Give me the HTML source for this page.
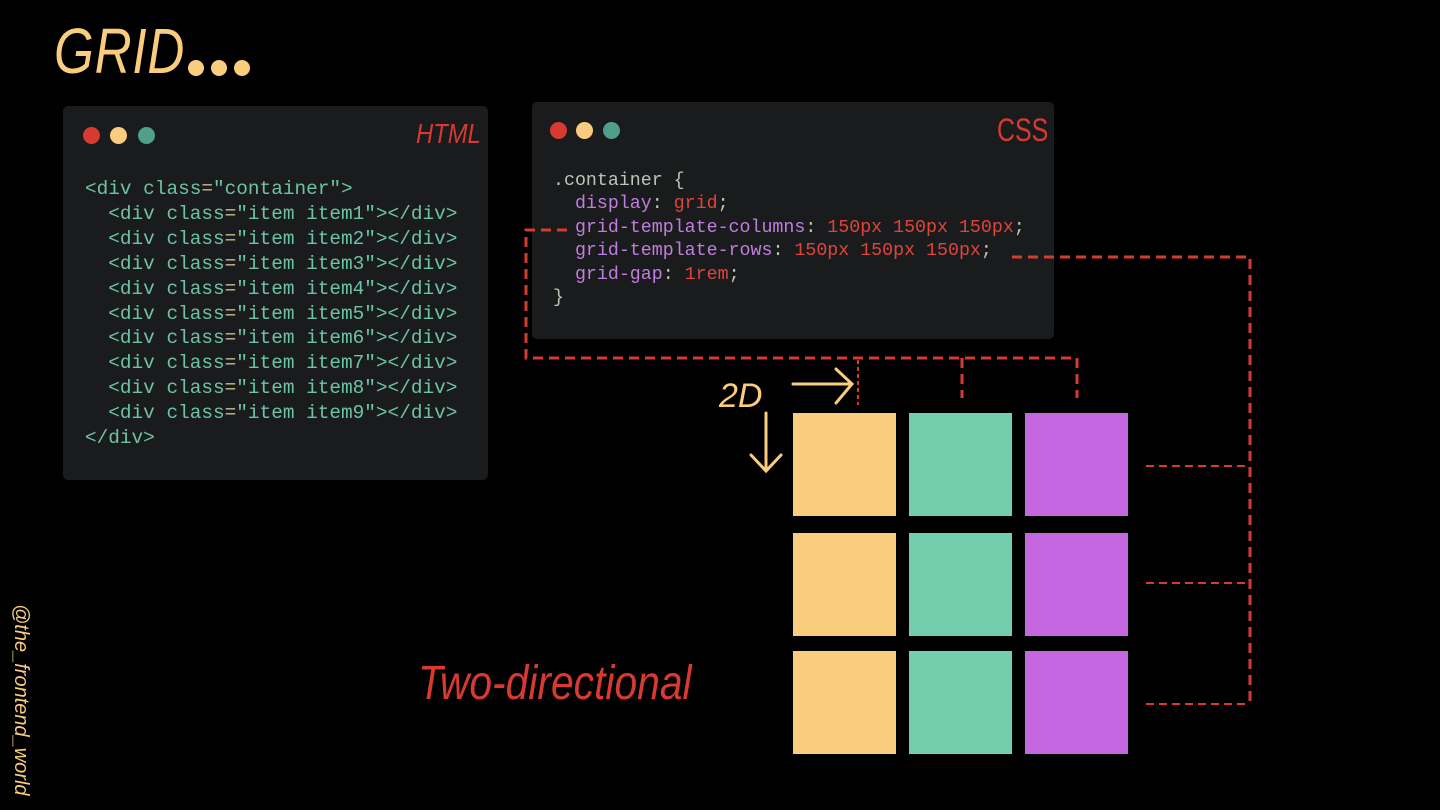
<!DOCTYPE html>
<html><head><meta charset="utf-8"><style>
body{margin:0;width:1440px;height:810px;background:#000;position:relative;overflow:hidden;font-family:"Liberation Sans",sans-serif}
.abs{position:absolute}
.panel{position:absolute;background:#1a1b1d;border-radius:5px}
.dot{position:absolute;width:17px;height:17px;border-radius:50%}
pre{margin:0;position:absolute;font-family:"Liberation Mono",monospace;color:#6cc4a4}
.sq{position:absolute;width:103px;height:103px}
.y{background:#f9cd7d}.g{background:#72ceac}.p{background:#c667e2}
.k{color:#c07ee0}.v{color:#e0443b}.w{color:#c0c4b8}.s{color:#cdb98f}
</style></head><body>
<div class="abs" style="left:54px;top:14px;font-size:64px;color:#f9cd7d;font-style:italic;letter-spacing:1px;transform:scaleX(0.8);transform-origin:left">GRID</div>
<div class="dot" style="left:188px;top:60px;width:16px;height:16px;background:#f9cd7d"></div>
<div class="dot" style="left:211px;top:60px;width:16px;height:16px;background:#f9cd7d"></div>
<div class="dot" style="left:234px;top:60px;width:16px;height:16px;background:#f9cd7d"></div>

<div class="panel" style="left:63px;top:106px;width:425px;height:374px"></div>
<div class="dot" style="left:83px;top:127px;background:#d63a30"></div>
<div class="dot" style="left:110px;top:127px;background:#f9cd7d"></div>
<div class="dot" style="left:138px;top:127px;background:#4f9f8a"></div>
<div class="abs" style="left:416px;top:118px;font-size:28px;color:#d63a30;font-style:italic;font-weight:300;transform:scaleX(0.85);transform-origin:left">HTML</div>
<pre style="left:85px;top:177px;font-size:19.4px;line-height:24.9px">&lt;div class<span class="s">=</span>"container"&gt;
  &lt;div class<span class="s">=</span>"item item1"&gt;&lt;/div&gt;
  &lt;div class<span class="s">=</span>"item item2"&gt;&lt;/div&gt;
  &lt;div class<span class="s">=</span>"item item3"&gt;&lt;/div&gt;
  &lt;div class<span class="s">=</span>"item item4"&gt;&lt;/div&gt;
  &lt;div class<span class="s">=</span>"item item5"&gt;&lt;/div&gt;
  &lt;div class<span class="s">=</span>"item item6"&gt;&lt;/div&gt;
  &lt;div class<span class="s">=</span>"item item7"&gt;&lt;/div&gt;
  &lt;div class<span class="s">=</span>"item item8"&gt;&lt;/div&gt;
  &lt;div class<span class="s">=</span>"item item9"&gt;&lt;/div&gt;
&lt;/div&gt;</pre>

<div class="panel" style="left:532px;top:102px;width:522px;height:237px"></div>
<div class="dot" style="left:550px;top:122px;background:#d63a30"></div>
<div class="dot" style="left:576px;top:122px;background:#f9cd7d"></div>
<div class="dot" style="left:603px;top:122px;background:#4f9f8a"></div>
<div class="abs" style="left:997px;top:112px;font-size:32px;color:#d63a30;font-weight:300;transform:scaleX(0.78);transform-origin:left">CSS</div>
<pre class="w" style="left:553px;top:170px;font-size:18.3px;line-height:23.4px">.container {
  <span class="k">display</span>: <span class="v">grid</span>;
  <span class="k">grid-template-columns</span>: <span class="v">150px 150px 150px</span>;
  <span class="k">grid-template-rows</span>: <span class="v">150px 150px 150px</span>;
  <span class="k">grid-gap</span>: <span class="v">1rem</span>;
}</pre>

<svg class="abs" style="left:0;top:0" width="1440" height="810">
<g fill="none" stroke="#d63a30" stroke-width="3" stroke-dasharray="10 6">
<path d="M567 230 H526 V358 H1077 V398"/>
<path d="M962 358 V398"/>
<path d="M858 360 V405" stroke-width="2" stroke-dasharray="4 3"/>
<path d="M1012 257 H1250 V703"/>
</g>
<g fill="none" stroke="#d63a30" stroke-width="2" stroke-dasharray="8 5">
<path d="M1146 466 H1248"/><path d="M1146 583 H1248"/><path d="M1146 704 H1248"/>
</g>
<g fill="none" stroke="#f9cd7d" stroke-width="3" stroke-linecap="round">
<path d="M793 384 H852 M836 369 L852 384 L836 403"/>
<path d="M766 413 V471 M751 455 L766 471 L781 455"/>
</g>
</svg>
<div class="abs" style="left:719px;top:377px;font-size:34px;color:#f9cd7d;font-weight:300;font-style:italic">2D</div>

<div class="sq y" style="left:793px;top:413px"></div><div class="sq g" style="left:909px;top:413px"></div><div class="sq p" style="left:1025px;top:413px"></div>
<div class="sq y" style="left:793px;top:533px"></div><div class="sq g" style="left:909px;top:533px"></div><div class="sq p" style="left:1025px;top:533px"></div>
<div class="sq y" style="left:793px;top:651px"></div><div class="sq g" style="left:909px;top:651px"></div><div class="sq p" style="left:1025px;top:651px"></div>

<div class="abs" style="left:418px;top:656px;font-size:48px;color:#d63a30;font-style:italic;font-weight:300;transform:scaleX(0.85);transform-origin:left">Two-directional</div>
<div class="abs" style="font-size:20px;color:#f9cd7d;font-style:italic;transform:rotate(90deg);transform-origin:left top;white-space:nowrap;left:32px;top:604px">@the_frontend_world</div>
</body></html>
